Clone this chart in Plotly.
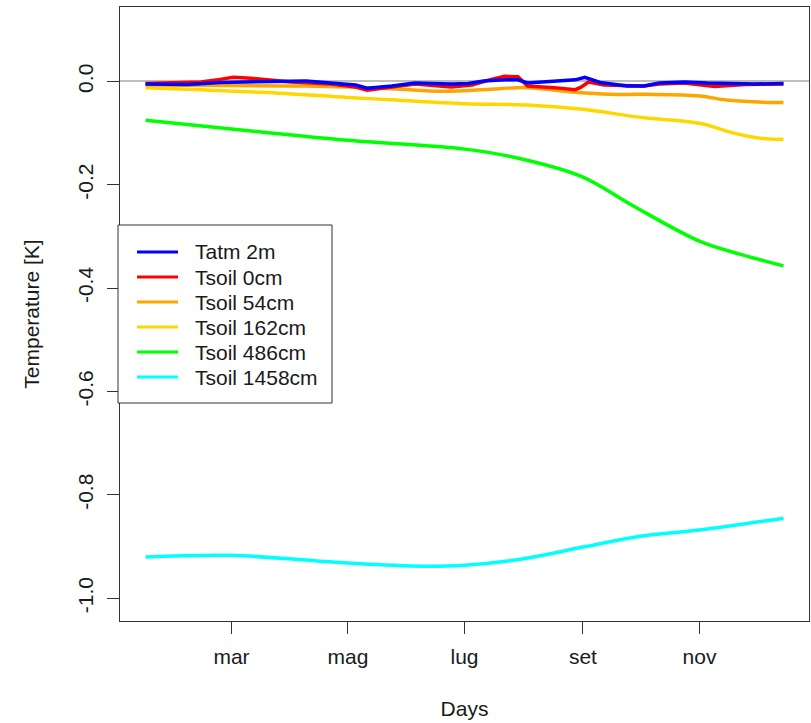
import plotly.graph_objects as go

# ---- data: temperature anomalies [K] by day of year (1 = 1 Jan) ----
tatm_day = [15, 37, 54, 65, 78, 87, 99, 112, 125, 131, 144, 156, 175, 184, 192,
            203, 210, 215, 229, 240, 245, 253, 267, 276, 284, 297, 309, 323, 334, 349]
tatm_val = [-0.005, -0.006, -0.002, -0.001, -0.001, 0.001, 0.001, -0.003, -0.007, -0.013,
            -0.009, -0.003, -0.005, -0.004, 0.001, 0.003, 0.003, -0.003, 0.001, 0.003,
            0.008, -0.002, -0.009, -0.009, -0.003, -0.001, -0.003, -0.005, -0.005, -0.004]

ts0_day = [15, 44, 54, 61, 70, 78, 91, 112, 125, 131, 144, 156, 175, 186, 196,
           203, 210, 215, 229, 240, 243, 247, 255, 267, 276, 284, 297, 313, 329, 349]
ts0_val = [-0.004, -0.001, 0.004, 0.008, 0.006, 0.003, -0.001, -0.005, -0.011, -0.017,
           -0.011, -0.005, -0.011, -0.007, 0.004, 0.010, 0.009, -0.009, -0.012, -0.016,
           -0.011, -0.001, -0.007, -0.008, -0.009, -0.005, -0.003, -0.010, -0.006, -0.005]

ts54_day = [15, 61, 99, 144, 170, 200, 215, 240, 258, 276, 305, 319, 336, 349]
ts54_val = [-0.007, -0.008, -0.009, -0.014, -0.019, -0.014, -0.012, -0.021, -0.025,
            -0.025, -0.028, -0.036, -0.040, -0.041]

ts162_day = [15, 76, 121, 146, 182, 217, 244, 275, 305, 322, 337, 349]
ts162_val = [-0.012, -0.021, -0.031, -0.036, -0.043, -0.046, -0.054, -0.070, -0.081,
             -0.099, -0.110, -0.112]

ts486_day = [15, 60, 121, 182, 212, 244, 269, 305, 327, 349]
ts486_val = [-0.075, -0.092, -0.114, -0.131, -0.150, -0.185, -0.238, -0.309, -0.335, -0.357]

ts1458_day = [15, 60, 121, 160, 182, 212, 244, 274, 305, 349]
ts1458_val = [-0.920, -0.917, -0.932, -0.938, -0.936, -0.924, -0.901, -0.880, -0.868, -0.845]

series_names = ["Tatm 2m", "Tsoil 0cm", "Tsoil 54cm", "Tsoil 162cm", "Tsoil 486cm", "Tsoil 1458cm"]
series_colors = ["#0000FF", "#FF0000", "#FFA500", "#FFD700", "#00FF00", "#00FFFF"]

month_days = [60, 121, 182, 244, 305]
month_labels = ["mar", "mag", "lug", "set", "nov"]

y_ticks = [0.0, -0.2, -0.4, -0.6, -0.8, -1.0]
y_labels = ["0.0", "-0.2", "-0.4", "-0.6", "-0.8", "-1.0"]

FONT = "Liberation Sans, Arial, sans-serif"
FS = 21
TXT = "#1a1a1a"

W, H = 811, 723
ML, MR, MT, MB = 120, 2, 7, 102
PW, PH = W - ML - MR, H - MT - MB


def px_x(px):
    return (px - ML) / PW


def px_y(py):
    return (H - MB - py) / PH


fig = go.Figure()

data = [
    (tatm_day, tatm_val, "linear"),
    (ts0_day, ts0_val, "linear"),
    (ts54_day, ts54_val, "spline"),
    (ts162_day, ts162_val, "spline"),
    (ts486_day, ts486_val, "spline"),
    (ts1458_day, ts1458_val, "spline"),
]
# draw the deepest layers first so the air/surface lines sit on top
order = [5, 4, 3, 2, 1, 0]
for i in order:
    d, v, shape = data[i]
    fig.add_trace(go.Scatter(
        x=d, y=v, mode="lines", name=series_names[i],
        line=dict(color=series_colors[i], width=3.5, shape=shape),
        showlegend=False,
    ))

# x range: data span padded by 4% on each side
x_lo, x_hi = 15, 349
pad = (x_hi - x_lo) * 0.04
y_lo, y_hi = -1.0, 0.1
ypad = (y_hi - y_lo) * 0.04

fig.update_layout(
    width=W, height=H,
    margin=dict(l=ML, r=MR, t=MT, b=MB, pad=0),
    paper_bgcolor="white", plot_bgcolor="white",
    font=dict(family=FONT, size=FS, color=TXT),
    xaxis=dict(
        range=[x_lo - pad, x_hi + pad],
        tickmode="array", tickvals=month_days, ticktext=month_labels,
        ticks="outside", ticklen=12, tickwidth=1, tickcolor="#333",
        showgrid=False, zeroline=False,
        showline=True, linecolor="#333", linewidth=1, mirror=True,
        tickfont=dict(family=FONT, size=FS, color=TXT),
        ticklabelstandoff=5,
        title=dict(text="Days", font=dict(family=FONT, size=FS, color=TXT), standoff=34),
    ),
    yaxis=dict(
        range=[y_lo - ypad, y_hi + ypad],
        tickmode="array", tickvals=y_ticks, ticktext=y_labels,
        tickangle=-90,
        ticks="outside", ticklen=12, tickwidth=1, tickcolor="#333",
        showgrid=False,
        zeroline=True, zerolinecolor="#BEBEBE", zerolinewidth=2,
        showline=True, linecolor="#333", linewidth=1, mirror=True,
        tickfont=dict(family=FONT, size=FS, color=TXT),
        ticklabelstandoff=6,
        title=dict(text="Temperature [K]", font=dict(family=FONT, size=FS, color=TXT), standoff=28),
    ),
)

# legend box with line samples
shapes = [dict(type="rect", xref="paper", yref="paper",
               x0=px_x(118), x1=px_x(332), y0=px_y(403), y1=px_y(225),
               line=dict(color="#333", width=1), fillcolor="white", layer="above")]
annotations = []
for k, (name, col) in enumerate(zip(series_names, series_colors)):
    yc = 252 + 25 * k
    shapes.append(dict(type="line", xref="paper", yref="paper",
                       x0=px_x(137), x1=px_x(178), y0=px_y(yc), y1=px_y(yc),
                       line=dict(color=col, width=3), layer="above"))
    annotations.append(dict(xref="paper", yref="paper", x=px_x(193), y=px_y(yc),
                            xanchor="left", yanchor="middle", text=name, showarrow=False,
                            font=dict(family=FONT, size=FS, color=TXT)))
fig.update_layout(shapes=shapes, annotations=annotations)

fig.write_html("out.html")
